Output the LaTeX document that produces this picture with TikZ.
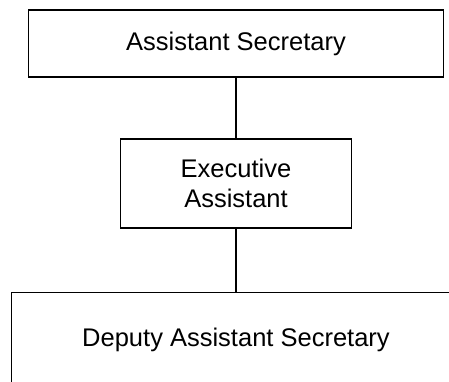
\documentclass[tikz,border=0pt]{standalone}
\usepackage{fontspec}
\setmainfont{Liberation Sans}
\usepackage{tikz}

\begin{document}
\begin{tikzpicture}[x=1pt,y=-1pt,
		box/.style={draw,line width=1.2pt,inner sep=0pt,align=center,
			font=\fontsize{25.5}{30}\selectfont}]
					\useasboundingbox (0,0) rectangle (449,381);
					
					\node[box,minimum width=415pt,minimum height=67pt] (asst) at (236,43.5) {Assistant Secretary};
					\node[box,minimum width=231pt,minimum height=89pt] (exec) at (236,183.5) {Executive\\Assistant};
					% box runs past the right and lower edge
					\node[box,anchor=north,minimum width=449pt,text height=54pt,text depth=50pt] (deputy) at (236,292) {Deputy Assistant Secretary};
					
					\draw[line width=1.2pt] (asst.south) -- (exec.north);
					\draw[line width=1.2pt] (exec.south) -- (deputy.north);
				\end{tikzpicture}
\end{document}
